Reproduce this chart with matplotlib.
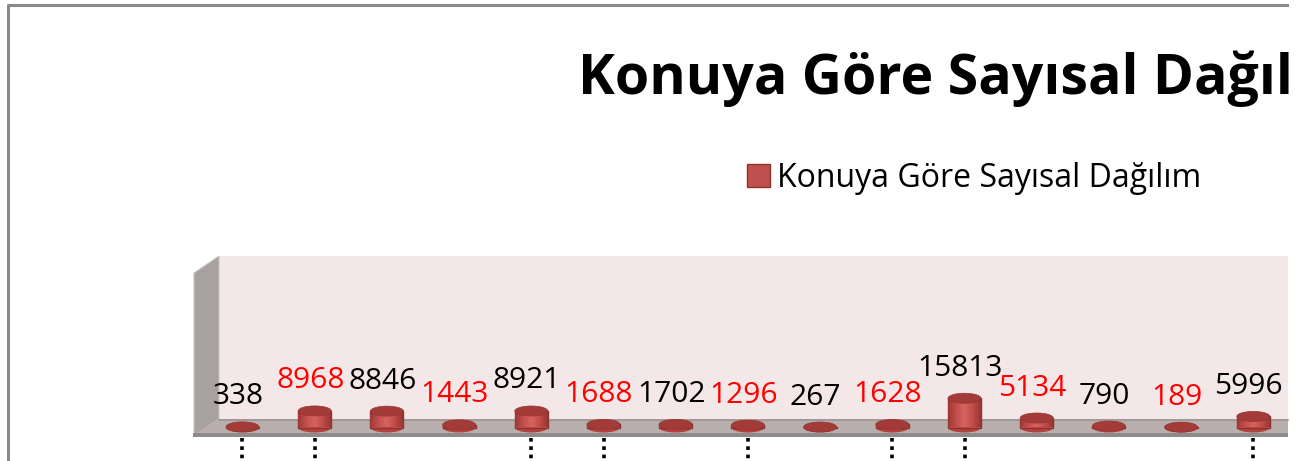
import numpy as np
import matplotlib.pyplot as plt
from matplotlib.patches import Ellipse, Polygon, Rectangle
from matplotlib.lines import Line2D
from matplotlib.colors import LinearSegmentedColormap

plt.rcParams['font.family'] = ['Open Sans', 'DejaVu Sans']

# data (only the visible part of the chart)
values = [338, 8968, 8846, 1443, 8921, 1688, 1702, 1296, 267, 1628, 15813, 5134, 790, 189, 5996]
series_name = "Konuya Göre Sayısal Dağılım"
title = "Konuya Göre Sayısal Dağılım"
label_colors = ['black', 'red'] * 8
tick_idx = [0, 1, 4, 5, 7, 9, 10, 14]

W, H = 1303, 461
fig = plt.figure(figsize=(W / 100, H / 100), dpi=100)
ax = fig.add_axes([0, 0, 1, 1])
ax.axis('off')

# pixel <-> data mapping
X0, DX = 242.5, 72.2       # first category centre, spacing (px)
Y0, PPU = 427.5, 1.85e-3   # base line (px from top), px per unit


def px(x):
    return (x - X0) / DX


def py(y):
    return (Y0 - y) / PPU


ax.set_xlim(px(0), px(W))
ax.set_ylim(py(H), py(0))

# 3d box: back wall, left wall, floor
ax.add_patch(Polygon([(px(219), py(256)), (px(1288), py(256)), (px(1288), py(419)), (px(219), py(419))],
                     closed=True, fc='#f3e7e7', ec='none', zorder=0))
ax.add_patch(Polygon([(px(194), py(273)), (px(219), py(256)), (px(219), py(419)), (px(194), py(436))],
                     closed=True, fc='#a7a1a1', ec='#c9c5c5', lw=0.8, zorder=0))
ax.add_patch(Polygon([(px(219), py(419)), (px(1288), py(419)), (px(1288), py(433)), (px(196), py(433))],
                     closed=True, fc='#b9aeae', ec='none', zorder=0))
ax.plot([px(219), px(1288)], [py(419.5), py(419.5)], color='#9d9595', lw=1.2, zorder=0.5)
ax.add_patch(Rectangle((px(193), py(437)), px(1288) - px(193), py(433) - py(437),
                       fc='#8f8b8b', ec='none', zorder=0.5))

# cylinders
w = 33 / DX
eh = 10 / PPU
idx = np.arange(len(values))
bars = ax.bar(idx, values, width=w, color='#c0504d', edgecolor='#8c3330', linewidth=1, zorder=3)
cyl = LinearSegmentedColormap.from_list('cyl', ['#9e3835', '#c24f4b', '#d8635f', '#c04d49', '#9a3633'])
grad = np.linspace(0, 1, 64).reshape(1, -1)
for i, v in enumerate(values):
    ax.add_patch(Ellipse((i, 0), w, eh, fc='#b3423f', ec='none', zorder=2.5))
    im = ax.imshow(grad, cmap=cyl, extent=[i - w / 2, i + w / 2, 0, v], aspect='auto', zorder=3.1)
    im.set_clip_path(bars[i])
    ax.add_patch(Ellipse((i, v), w, eh, fc='#a33c39', ec='#94332f', lw=0.5, zorder=4))
    ax.annotate(str(v), (i, v), xytext=(-4.5, 22.5), textcoords='offset pixels',
                ha='center', va='baseline', fontsize=21.5, color=label_colors[i], zorder=5)

ax.set_xlim(px(0), px(W))
ax.set_ylim(py(H), py(0))

# cut-off category labels show up as dotted stubs
ax.vlines(tick_idx, py(438), py(461), colors='black', linestyles=(0, (1, 1.3)), lw=2.6, zorder=5)

# legend
ax.legend(handles=[bars], labels=[series_name], loc='upper left', bbox_to_anchor=(747 / W, 1 - 162 / H),
          frameon=False, fontsize=23, handlelength=0.72, handleheight=0.72,
          handletextpad=0.22, borderpad=0, borderaxespad=0)

fig.text(578 / W, 1 - 94 / H, title, fontsize=40, fontweight='bold', ha='left', va='baseline')

# chart frame (cropped on the right/bottom)
fig.add_artist(Line2D([8 / W, 8 / W, 1288 / W], [0, 1 - 5 / H, 1 - 5 / H],
                      color='#8a8a8a', lw=2.2, zorder=9))
fig.add_artist(Rectangle((1289 / W, 0), 14 / W, 1, transform=fig.transFigure,
                         fc='white', ec='none', zorder=10))

fig.savefig('out.png', dpi=100)
